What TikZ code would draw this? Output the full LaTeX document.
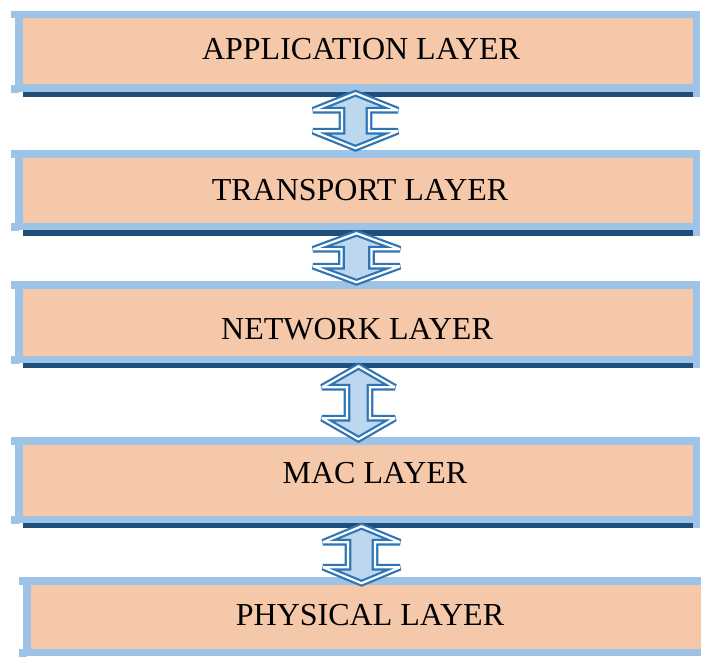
\documentclass[tikz,border=0pt]{standalone}
\usepackage{fontspec}
\setmainfont{Liberation Serif}
\usetikzlibrary{calc}

\definecolor{frameblue}{HTML}{9DC3E6}
\definecolor{peach}{HTML}{F5C8AA}
\definecolor{navyline}{HTML}{1F4E79}
\definecolor{arrowedge}{HTML}{2E75B6}
\definecolor{arrowfill}{HTML}{BDD7EE}

\tikzset{
  layer/.style={rectangle, fill=peach, draw=frameblue, line width=7.5pt,
    outer sep=0pt, inner sep=0pt},
  layertext/.style={text=black, font=\fontsize{32}{38}\selectfont},
  biarrow/.style={fill=arrowfill, draw=arrowedge, line width=2.2pt,
    double=white, double distance=2.2pt, line join=miter, miter limit=3},
}

% extras around a layer box: left serifs, right post and the dark shadow line
\newcommand{\layertrim}[2]{%
  \fill[navyline] ($(#1.south west)+(4,3.75)$) rectangle ($(#1.south east)+(-3.5,#2)$);
  \fill[frameblue] ($(#1.south east)+(-3.75,0)$) rectangle ++(7.5,#2);
  \fill[frameblue] ($(#1.north west)+(-7.75,-3.75)$) rectangle ++(8,7.5);
  \fill[frameblue] ($(#1.south west)+(-7.75,-3.5)$) rectangle ++(8,8);
}

% double-headed block arrow between two tip coordinates
% #1 top tip, #2 bottom tip, #3 head half width, #4 shaft half width, #5 head length
\newcommand{\layerarrow}[5]{%
  \draw[biarrow] (#1) -- ++(#3,#5) -- ++(-#3+#4,0) -- ($(#2)+(#4,-#5)$)
    -- ++(#3-#4,0) -- (#2) -- ++(-#3,-#5) -- ++(#3-#4,0)
    -- ($(#1)+(-#4,#5)$) -- ++(-#3+#4,0) -- cycle;
}

\begin{document}
\begin{tikzpicture}[x=1pt, y=-1pt]
  \useasboundingbox (0,0) rectangle (701,658);
  \clip (0,0) rectangle (701,658);

  % layer boxes
  \node[layer, minimum width=677.5pt, minimum height=73.5pt] (app) at (357.5,51.5) {};
  \node[layer, minimum width=677.5pt, minimum height=72.5pt] (trans) at (357.5,190) {};
  \node[layer, minimum width=677.5pt, minimum height=74.5pt] (net) at (357.5,322) {};
  \node[layer, minimum width=677.5pt, minimum height=78.5pt] (mac) at (357.5,480) {};
  \node[layer, minimum width=689.5pt, minimum height=71.5pt] (phy) at (371.5,616.5) {};

  \layertrim{app}{9}
  \layertrim{trans}{9.5}
  \layertrim{net}{9}
  \layertrim{mac}{9}
  \fill[frameblue] ($(phy.north west)+(-7.75,-3.75)$) rectangle ++(8,7.5);
  \fill[frameblue] ($(phy.south west)+(-7.75,-3.5)$) rectangle ++(8,8);

  % labels
  \node[layertext] (appt) at (361,49) {APPLICATION LAYER};
  \node[layertext] (transt) at (360,190) {TRANSPORT LAYER};
  \node[layertext] (nett) at (357,329) {NETWORK LAYER};
  \node[layertext] (mact) at (375,473) {MAC LAYER};
  \node[layertext] (phyt) at (370,615) {PHYSICAL LAYER};

  % arrow tips
  \coordinate (a1t) at ($(app.south)+(-2,5)$);
  \coordinate (a1b) at ($(trans.north)+(-2,-5.5)$);
  \coordinate (a2t) at ($(trans.south)+(-1,7)$);
  \coordinate (a2b) at ($(net.north)+(-1,-2.5)$);
  \coordinate (a3t) at ($(net.south)+(1,7)$);
  \coordinate (a3b) at ($(mac.north)+(1,-1.5)$);
  \coordinate (a4t) at ($(mac.south)+(4,7)$);
  \coordinate (a4b) at ($(phy.north)+(-10,2.5)$);

  \layerarrow{a1t}{a1b}{42.5}{13.5}{17}
  \layerarrow{a2t}{a2b}{43.5}{15}{16}
  \layerarrow{a3t}{a3b}{36.5}{11.5}{21}
  \layerarrow{a4t}{a4b}{38.5}{13.5}{16}
\end{tikzpicture}
\end{document}
